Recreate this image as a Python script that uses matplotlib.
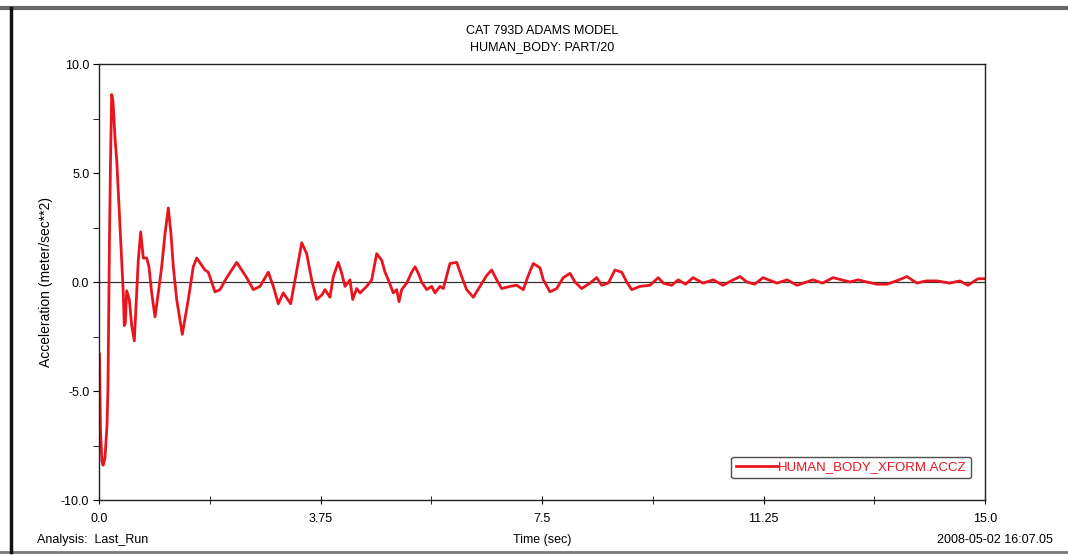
import numpy as np
import matplotlib.pyplot as plt
from matplotlib.lines import Line2D
from matplotlib.ticker import MultipleLocator

# ======================
# DATA
# ======================
time_sec = [
    0.008, 0.025, 0.05, 0.068, 0.10, 0.135, 0.152, 0.17, 0.178, 0.195,
    0.215, 0.237, 0.271, 0.30, 0.327, 0.355, 0.384, 0.411, 0.428, 0.445,
    0.469, 0.513, 0.554, 0.598, 0.638, 0.665, 0.706, 0.75, 0.807, 0.846,
    0.892, 0.948, 1.004, 1.061, 1.117, 1.173, 1.219, 1.258, 1.315, 1.41,
    1.512, 1.596, 1.654, 1.794, 1.85, 1.964, 2.048, 2.162, 2.331, 2.50,
    2.612, 2.726, 2.866, 2.951, 3.035, 3.12, 3.245, 3.432, 3.516, 3.60,
    3.685, 3.77, 3.826, 3.91, 3.967, 4.051, 4.109, 4.165, 4.249, 4.295,
    4.363, 4.419, 4.532, 4.617, 4.701, 4.786, 4.842, 4.898, 4.982, 5.04,
    5.079, 5.124, 5.209, 5.294, 5.35, 5.406, 5.463, 5.548, 5.632, 5.688,
    5.773, 5.829, 5.942, 6.056, 6.14, 6.225, 6.337, 6.45, 6.563, 6.648,
    6.733, 6.817, 6.958, 7.071, 7.183, 7.268, 7.352, 7.466, 7.522, 7.635,
    7.748, 7.86, 7.974, 8.058, 8.172, 8.312, 8.426, 8.51, 8.622, 8.735,
    8.849, 8.934, 9.018, 9.159, 9.328, 9.468, 9.553, 9.695, 9.807, 9.93,
    10.056, 10.226, 10.40, 10.564, 10.70, 10.852, 10.97, 11.10, 11.241, 11.478,
    11.65, 11.816, 12.087, 12.25, 12.426, 12.714, 12.85, 13.0, 13.17, 13.34,
    13.50, 13.678, 13.848, 14.0, 14.186, 14.40, 14.575, 14.711, 14.88, 15.0,
]
accel_z = [
    -3.3, -6.8, -8.2, -8.4, -8.1, -6.6, -4.8, -0.2, 2.2, 5.6,
    8.6, 8.3, 6.6, 5.6, 4.1, 2.5, 1.0, -0.5, -2.0, -1.9,
    -0.4, -0.8, -2.0, -2.7, -0.5, 1.0, 2.3, 1.1, 1.1, 0.7,
    -0.5, -1.6, -0.5, 0.7, 2.2, 3.4, 2.2, 0.7, -0.8, -2.4,
    -0.8, 0.7, 1.1, 0.55, 0.45, -0.45, -0.35, 0.2, 0.9, 0.2,
    -0.35, -0.2, 0.45, -0.2, -1.0, -0.5, -1.0, 1.8, 1.3, 0.1,
    -0.8, -0.6, -0.35, -0.7, 0.25, 0.9, 0.4, -0.2, 0.1, -0.8,
    -0.3, -0.5, -0.2, 0.1, 1.3, 1.0, 0.45, 0.1, -0.5, -0.35,
    -0.9, -0.35, -0.05, 0.45, 0.7, 0.4, 0.0, -0.35, -0.2, -0.5,
    -0.2, -0.3, 0.85, 0.9, 0.25, -0.35, -0.7, -0.2, 0.3, 0.55,
    0.1, -0.3, -0.2, -0.15, -0.35, 0.3, 0.85, 0.65, 0.1, -0.45,
    -0.3, 0.2, 0.4, 0.0, -0.3, -0.05, 0.2, -0.15, -0.05, 0.55,
    0.45, 0.0, -0.35, -0.2, -0.15, 0.2, -0.05, -0.15, 0.1, -0.1,
    0.2, -0.05, 0.1, -0.15, 0.05, 0.25, 0.0, -0.1, 0.2, -0.05,
    0.1, -0.15, 0.1, -0.05, 0.2, 0.0, 0.1, 0.0, -0.1, -0.1,
    0.05, 0.25, -0.05, 0.05, 0.05, -0.05, 0.05, -0.15, 0.15, 0.15,
]

x_ticks = [0.0, 3.75, 7.5, 11.25, 15.0]
x_tick_labels = ["0.0", "3.75", "7.5", "11.25", "15.0"]
y_ticks = [-10.0, -5.0, 0.0, 5.0, 10.0]
y_tick_labels = ["-10.0", "-5.0", "0.0", "5.0", "10.0"]

title_lines = ["CAT 793D ADAMS MODEL", "HUMAN_BODY: PART/20"]
series_name = "HUMAN_BODY_XFORM.ACCZ"

# ======================
# STYLE
# ======================
plt.rcParams['font.family'] = ['Liberation Sans', 'DejaVu Sans']
red = '#e8141e'

fig = plt.figure(figsize=(10.68, 5.58), dpi=100)
ax = fig.add_axes([0.0927, 0.1039, 0.8296, 0.7814])

# ======================
# PLOT
# ======================
ax.axhline(0, color='#333333', linewidth=0.9, zorder=1)
ax.plot(time_sec, accel_z, color=red, linewidth=2.0, label=series_name, zorder=2)

ax.set_xlim(0, 15)
ax.set_ylim(-10, 10)
ax.set_xticks(x_ticks)
ax.set_xticklabels(x_tick_labels)
ax.set_yticks(y_ticks)
ax.set_yticklabels(y_tick_labels)
ax.xaxis.set_minor_locator(MultipleLocator(1.875))
ax.yaxis.set_minor_locator(MultipleLocator(2.5))

ax.tick_params(axis='x', which='both', direction='inout', length=6,
               labelsize=9, pad=6)
ax.tick_params(axis='y', which='both', direction='out', length=4,
               labelsize=9, pad=3)
for sp in ax.spines.values():
    sp.set_linewidth(1.0)
    sp.set_color('#222222')

ax.set_ylabel("Acceleration (meter/sec**2)", fontsize=10, labelpad=6)

fig.text(0.5075, 0.945, title_lines[0], ha='center', va='center', fontsize=9)
fig.text(0.5075, 0.915, title_lines[1], ha='center', va='center', fontsize=9)

fig.text(0.035, 0.032, "Analysis:  Last_Run", ha='left', va='center', fontsize=9)
fig.text(0.5075, 0.032, "Time (sec)", ha='center', va='center', fontsize=9)
fig.text(0.986, 0.032, "2008-05-02 16:07.05", ha='right', va='center',
         fontsize=9)

leg = ax.legend(loc='lower right', bbox_to_anchor=(0.992, 0.035),
                frameon=True, fancybox=True, fontsize=9.5,
                handlelength=3.2, handletextpad=0.0, borderpad=0.35)
leg.get_frame().set_edgecolor('#222222')
leg.get_frame().set_linewidth(1.0)
for txt in leg.get_texts():
    txt.set_color(red)

# scanned page frame
fig.add_artist(Line2D([0, 1], [0.985, 0.985], transform=fig.transFigure,
                      color='#666666', linewidth=3))
fig.add_artist(Line2D([0, 1], [0.01, 0.01], transform=fig.transFigure,
                      color='#777777', linewidth=2))
fig.add_artist(Line2D([0.01, 0.01], [0.01, 0.985], transform=fig.transFigure,
                      color='#111111', linewidth=2.5))

plt.savefig('out.png', dpi=100)
